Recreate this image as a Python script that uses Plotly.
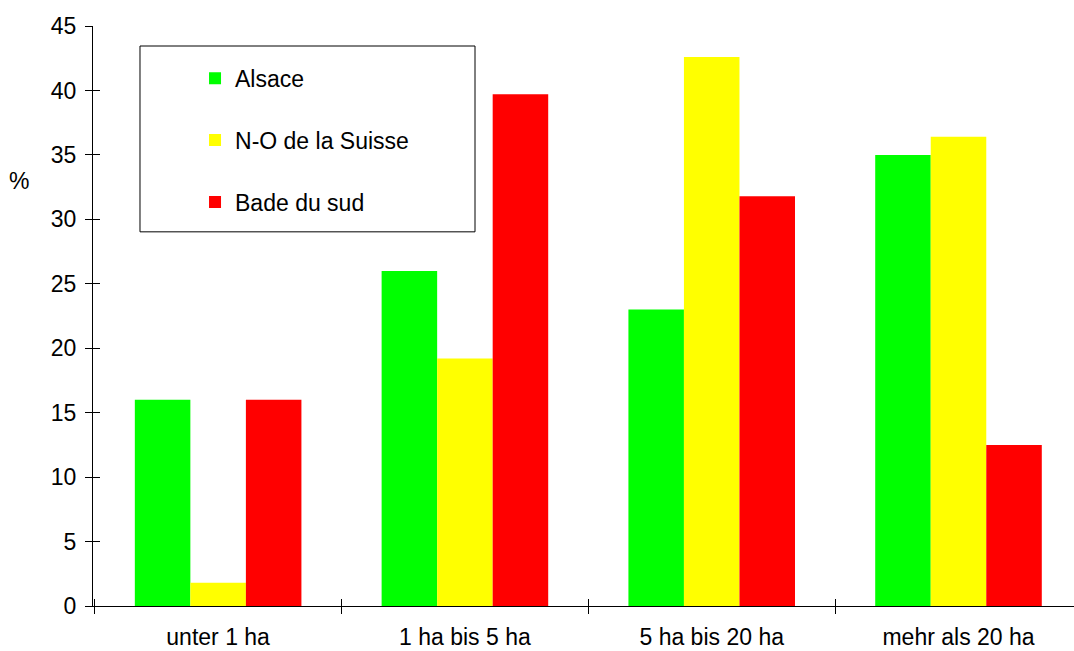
import plotly.graph_objects as go

# Farm size classes and share of farms (%) per region
categories = ["unter 1 ha", "1 ha bis 5 ha", "5 ha bis 20 ha", "mehr als 20 ha"]
alsace = [16.0, 26.0, 23.0, 35.0]
suisse_no = [1.8, 19.2, 42.6, 36.4]
bade_sud = [16.0, 39.7, 31.8, 12.5]
y_ticks = [0, 5, 10, 15, 20, 25, 30, 35, 40, 45]

FONT = "Arial, Liberation Sans, sans-serif"

series = [
    ("Alsace", alsace, "#00ff00"),
    ("N-O de la Suisse", suisse_no, "#ffff00"),
    ("Bade du sud", bade_sud, "#ff0000"),
]

fig = go.Figure()
for name, vals, color in series:
    fig.add_trace(go.Bar(
        x=categories, y=vals, name=name,
        marker=dict(color=color, line=dict(width=0)),
        legendgroup=name,
    ))

# empty trace so the overlay axes (inner half of the cross ticks) are drawn
fig.add_trace(go.Scatter(x=[], y=[], xaxis="x2", yaxis="y2", showlegend=False))

X_RANGE = [-0.507, 3.468]

fig.update_layout(
    width=1074, height=651,
    margin=dict(l=93, r=0, t=26, b=45),
    paper_bgcolor="white", plot_bgcolor="white",
    font=dict(family=FONT, size=23, color="black"),
    barmode="group", bargap=0.325, bargroupgap=0,
    showlegend=True,
    legend=dict(
        x=0.104, y=0.947, xanchor="left", yanchor="top",
        bgcolor="rgba(0,0,0,0)", borderwidth=0,
        traceorder="grouped", tracegroupgap=29,
        font=dict(family=FONT, size=23, color="black"),
    ),
    xaxis=dict(
        type="category", range=X_RANGE,
        showline=True, linecolor="black", linewidth=1,
        ticks="outside", ticklen=7, tickcolor="black", tickwidth=1,
        tickson="boundaries", showgrid=False, zeroline=False,
        ticklabelstandoff=10,
        tickfont=dict(family=FONT, size=23, color="black"),
    ),
    yaxis=dict(
        range=[0, 45], tickvals=y_ticks,
        showline=True, linecolor="black", linewidth=1,
        ticks="outside", ticklen=7, tickcolor="black", tickwidth=1,
        showgrid=False, zeroline=False,
        ticklabelstandoff=4,
        tickfont=dict(family=FONT, size=23, color="black"),
    ),
    xaxis2=dict(
        overlaying="x", anchor="y2", range=X_RANGE,
        tickvals=[-0.5, 0.5, 1.5, 2.5],
        ticks="inside", ticklen=7, tickcolor="black", tickwidth=1,
        showticklabels=False, showgrid=False, zeroline=False, showline=False,
    ),
    yaxis2=dict(
        overlaying="y", anchor="x2", side="left", range=[0, 45],
        tickvals=y_ticks,
        ticks="inside", ticklen=7, tickcolor="black", tickwidth=1,
        showticklabels=False, showgrid=False, zeroline=False, showline=False,
    ),
    shapes=[dict(
        type="rect", xref="paper", yref="paper",
        x0=0.0479, x1=0.3894, y0=0.6451, y1=0.9655,
        line=dict(color="black", width=1), fillcolor="rgba(0,0,0,0)",
    )],
    annotations=[dict(
        text="%", xref="paper", yref="y", x=-0.075, y=33,
        xanchor="center", yanchor="middle", showarrow=False,
        font=dict(family=FONT, size=23, color="black"),
    )],
)

fig.write_html("out.html")
